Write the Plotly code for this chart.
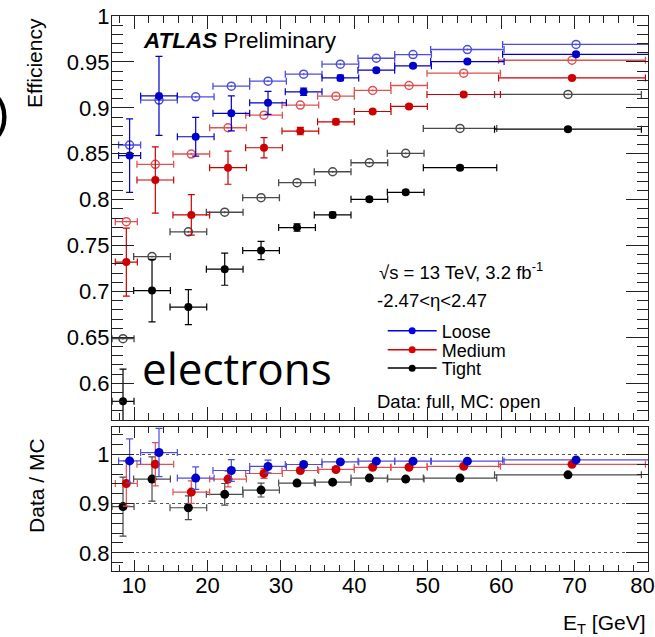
import plotly.graph_objects as go

# ---------------- data ----------------
bin_halfwidth = [1.5, 2.5, 2.5, 2.5, 2.5, 2.5, 2.5, 2.5, 2.5, 5, 10]

et_tight = [8.5, 12.45, 17.4, 22.35, 27.3, 32.2, 37.05, 42.05, 47.0, 54.4, 69.1]
et_medium = [8.95, 12.9, 17.8, 22.8, 27.7, 32.65, 37.5, 42.5, 47.45, 54.9, 69.65]
et_loose = [9.4, 13.4, 18.4, 23.25, 28.25, 33.1, 38.1, 43.0, 48.0, 55.4, 70.2]

loose_data = [0.848, 0.913, 0.8685, 0.894, 0.9054, 0.9174, 0.9326, 0.941, 0.9457, 0.9504, 0.9583]
loose_data_err = [0.040, 0.043, 0.021, 0.019, 0.0125, 0.004, 0.003, 0.002, 0.002, 0.002, 0.002]
loose_mc = [0.8595, 0.9084, 0.912, 0.9236, 0.929, 0.9366, 0.9475, 0.954, 0.958, 0.9635, 0.969]

medium_data = [0.732, 0.8214, 0.7834, 0.8348, 0.8565, 0.8747, 0.8848, 0.896, 0.9015, 0.9145, 0.9326]
medium_data_err = [0.037, 0.036, 0.022, 0.018, 0.011, 0.004, 0.003, 0.002, 0.002, 0.002, 0.002]
medium_mc = [0.776, 0.8385, 0.8497, 0.8783, 0.892, 0.903, 0.9127, 0.919, 0.9243, 0.9377, 0.9518]

tight_data = [0.5804, 0.701, 0.683, 0.7243, 0.7446, 0.7696, 0.7834, 0.8004, 0.808, 0.8348, 0.8768]
tight_data_err = [0.035, 0.034, 0.019, 0.0175, 0.010, 0.004, 0.003, 0.002, 0.002, 0.002, 0.002]
tight_mc = [0.6486, 0.738, 0.765, 0.7863, 0.8022, 0.8185, 0.8304, 0.8402, 0.8504, 0.8776, 0.9146]

loose_ratio = [0.987, 1.004, 0.952, 0.9675, 0.9757, 0.9797, 0.985, 0.9864, 0.9864, 0.9864, 0.989]
loose_ratio_err = [0.045, 0.049, 0.023, 0.022, 0.013, 0.005, 0.004, 0.003, 0.003, 0.003, 0.003]
medium_ratio = [0.941, 0.980, 0.9235, 0.95, 0.9614, 0.9675, 0.9696, 0.974, 0.974, 0.976, 0.980]
medium_ratio_err = [0.046, 0.044, 0.023, 0.016, 0.010, 0.005, 0.004, 0.003, 0.003, 0.003, 0.003]
tight_ratio = [0.894, 0.95, 0.8917, 0.919, 0.9276, 0.9418, 0.9438, 0.952, 0.950, 0.952, 0.9586]
tight_ratio_err = [0.06, 0.045, 0.024, 0.022, 0.014, 0.005, 0.004, 0.003, 0.003, 0.003, 0.003]

eff_tickvals = [0.6, 0.65, 0.7, 0.75, 0.8, 0.85, 0.9, 0.95, 1.0]
eff_ticktext = ["0.6", "0.65", "0.7", "0.75", "0.8", "0.85", "0.9", "0.95", "1"]
ratio_tickvals = [0.8, 0.9, 1.0]
ratio_ticktext = ["0.8", "0.9", "1"]
et_tickvals = [10, 20, 30, 40, 50, 60, 70, 80]
et_ticktext = ["10", "20", "30", "40", "50", "60", "70", "80\u2002"]

legend_names = ["Loose", "Medium", "Tight"]
legend_colors = ["#0000ee", "#dd0000", "#000000"]

series = [
    # name, x, data, data err, mc, ratio, ratio err, data colour, mc colour
    ("Tight", et_tight, tight_data, tight_data_err, tight_mc, tight_ratio, tight_ratio_err, "#000000", "#4a4a4a"),
    ("Medium", et_medium, medium_data, medium_data_err, medium_mc, medium_ratio, medium_ratio_err, "#cc0000", "#e05252"),
    ("Loose", et_loose, loose_data, loose_data_err, loose_mc, loose_ratio, loose_ratio_err, "#0000cc", "#4d4de0"),
]

FONT = "Liberation Sans, Arial, Helvetica, sans-serif"

fig = go.Figure()

for name, xs, d, de, mc, r, re, cd, cm in series:
    # MC (open)
    fig.add_trace(go.Scatter(
        x=xs, y=mc, mode="markers", xaxis="x2", yaxis="y", showlegend=False,
        marker=dict(symbol="circle-open", size=8, color=cm, line=dict(width=1.5, color=cm)),
        error_x=dict(type="data", array=bin_halfwidth, color=cm, thickness=1.3, width=3.5),
        error_y=dict(type="data", array=[0.001] * len(mc), color=cm, thickness=1.3, width=0),
    ))
    # Data (filled)
    fig.add_trace(go.Scatter(
        x=xs, y=d, mode="markers", xaxis="x2", yaxis="y", showlegend=False,
        marker=dict(symbol="circle", size=8, color=cd),
        error_x=dict(type="data", array=bin_halfwidth, color=cd, thickness=1.2, width=3.5),
        error_y=dict(type="data", array=de, color=cd, thickness=1.2, width=3.5),
    ))
    # Ratio
    fig.add_trace(go.Scatter(
        x=xs, y=r, mode="markers", xaxis="x", yaxis="y2", showlegend=False,
        marker=dict(symbol="circle", size=9, color=cd),
        error_x=dict(type="data", array=bin_halfwidth, color=cm, thickness=1.2, width=3.5),
        error_y=dict(type="data", array=re, color=cm, thickness=1.2, width=3.5),
    ))

# legend entries (one legend box per row so the row spacing can follow the reference)
legend_keys = ["legend", "legend2", "legend3"]
legend_rows_y = [0.4324, 0.398, 0.365]
for name, col, lk in zip(legend_names, legend_colors, legend_keys):
    fig.add_trace(go.Scatter(
        x=[None], y=[None], mode="lines+markers", name=name, xaxis="x2", yaxis="y",
        legend=lk, line=dict(color=col, width=1.5),
        marker=dict(symbol="circle", size=7, color=col),
    ))

tickfont = dict(family=FONT, size=22, color="black")
axcommon = dict(showline=True, linecolor="#222", linewidth=1, mirror="allticks",
                ticks="inside", tickcolor="#222", zeroline=False, showgrid=False,
                automargin=False)

legend_layout = {}
for lk, ly in zip(legend_keys, legend_rows_y):
    legend_layout[lk] = dict(x=0.505, y=ly, xanchor="left", yanchor="middle",
                             font=dict(family=FONT, size=18, color="black"),
                             bgcolor="rgba(0,0,0,0)", itemwidth=49)

fig.update_layout(
    width=655, height=637,
    margin=dict(l=112, r=7, t=16, b=66, autoexpand=False),
    paper_bgcolor="white", plot_bgcolor="white",
    font=dict(family=FONT, color="black"),
    showlegend=True,
    xaxis=dict(domain=[0, 1], anchor="y2", range=[7, 80], tickmode="array",
               tickvals=et_tickvals, ticktext=et_ticktext, ticklen=11, tickfont=tickfont,
               ticklabelstandoff=-5, ticklabeloverflow="allow",
               minor=dict(ticks="inside", dtick=2, tick0=0, ticklen=6, tickcolor="#222"),
               **axcommon),
    xaxis2=dict(domain=[0, 1], anchor="y", matches="x", range=[7, 80], tickmode="array",
                tickvals=et_tickvals, showticklabels=False, ticklen=13,
                minor=dict(ticks="inside", dtick=2, tick0=0, ticklen=7, tickcolor="#222"),
                **axcommon),
    yaxis=dict(domain=[0.272, 1], anchor="x2", range=[0.56, 1.0], tickmode="array",
               tickvals=eff_tickvals, ticktext=eff_ticktext, ticklen=22, tickfont=tickfont,
               ticklabelstandoff=-3,
               minor=dict(ticks="inside", dtick=0.01, tick0=0.0, ticklen=11, tickcolor="#222"),
               **axcommon),
    yaxis2=dict(domain=[0, 0.2595], anchor="x", range=[0.763, 1.056], tickmode="array",
                tickvals=ratio_tickvals, ticktext=ratio_ticktext, ticklen=22, tickfont=tickfont,
                ticklabelstandoff=-3,
                minor=dict(ticks="inside", dtick=0.02, tick0=0.0, ticklen=11, tickcolor="#222"),
                showline=True, linecolor="#222", linewidth=1, mirror="allticks",
                ticks="inside", tickcolor="#222", zeroline=False, automargin=False,
                showgrid=True, gridcolor="#555", gridwidth=1, griddash="dot"),
    **legend_layout,
)

ann = []
ann.append(dict(text="<b><i>ATLAS</i></b> Preliminary", x=0.054, y=0.955, xref="paper", yref="paper",
                xanchor="left", yanchor="middle", showarrow=False, font=dict(family=FONT, size=22.5)))
ann.append(dict(text="\u221as = 13 TeV, 3.2 fb<sup>-1</sup>", x=0.494, y=0.5405, xref="paper", yref="paper",
                xanchor="left", yanchor="middle", showarrow=False, font=dict(family=FONT, size=18.5)))
ann.append(dict(text="-2.47&lt;\u03b7&lt;2.47", x=0.491, y=0.4865, xref="paper", yref="paper",
                xanchor="left", yanchor="middle", showarrow=False, font=dict(family=FONT, size=18.5)))
ann.append(dict(text="Data: full, MC: open", x=0.491, y=0.305, xref="paper", yref="paper",
                xanchor="left", yanchor="middle", showarrow=False, font=dict(family=FONT, size=18.5)))
ann.append(dict(text="electrons", x=0.052, y=0.365, xref="paper", yref="paper",
                xanchor="left", yanchor="middle", showarrow=False, font=dict(family="Open Sans", size=44)))
ann.append(dict(text="Efficiency", x=-0.1455, y=1.0, xref="paper", yref="paper", textangle=-90,
                xanchor="center", yanchor="top", showarrow=False, font=dict(family=FONT, size=21)))
ann.append(dict(text="Data / MC", x=-0.14, y=0.155, xref="paper", yref="paper", textangle=-90,
                xanchor="center", yanchor="middle", showarrow=False, font=dict(family=FONT, size=21)))
ann.append(dict(text="E<sub>T</sub> [GeV]", x=1.0, y=-0.0955, xref="paper", yref="paper",
                xanchor="right", yanchor="middle", showarrow=False, font=dict(family=FONT, size=21)))
ann.append(dict(text=")", x=-0.186, y=0.825, xref="paper", yref="paper",
                xanchor="right", yanchor="middle", showarrow=False, font=dict(family=FONT, size=50)))
fig.update_layout(annotations=ann)

fig.write_html(
    "out.html",
    config={"displayModeBar": False},
    post_script="document.body.style.margin='0';document.body.style.overflow='hidden';",
)
